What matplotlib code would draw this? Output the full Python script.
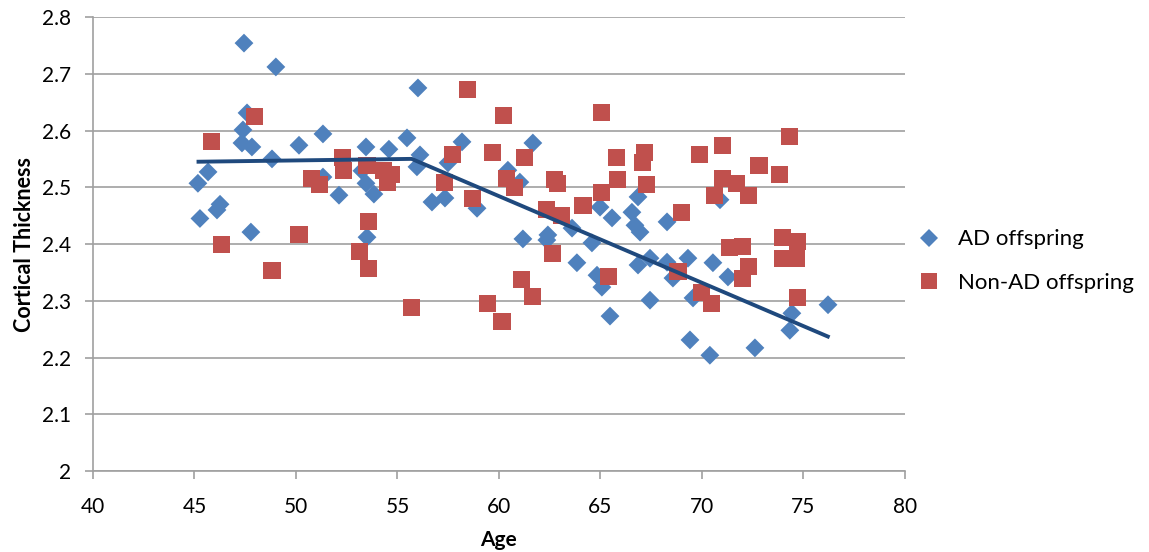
import matplotlib.pyplot as plt
from matplotlib.lines import Line2D

# AD offspring (blue diamonds)
ad_age = [45.17, 45.27, 45.67, 46.11, 46.26, 47.44, 47.59, 47.39, 47.34, 47.83,
          47.78, 48.82, 49.01, 50.15, 51.33, 51.33, 52.12, 53.45, 53.25, 53.45,
          53.84, 53.50, 54.58, 55.47, 56.01, 56.11, 55.96, 56.70, 57.34, 57.49,
          58.18, 58.92, 60.44, 61.03, 61.67, 61.18, 62.41, 62.36, 63.60, 63.84,
          64.58, 64.98, 65.57, 64.83, 65.07, 65.47, 66.55, 66.70, 66.95, 66.85,
          67.44, 66.85, 67.44, 68.28, 68.28, 68.57, 69.31, 69.56, 69.41, 70.54,
          70.89, 71.28, 70.39, 72.61, 74.43, 74.33, 76.21]
ad_thick = [2.507, 2.445, 2.527, 2.460, 2.470, 2.754, 2.631, 2.601, 2.578, 2.571,
            2.421, 2.550, 2.712, 2.574, 2.594, 2.518, 2.486, 2.571, 2.529, 2.507,
            2.488, 2.412, 2.567, 2.587, 2.675, 2.557, 2.536, 2.474, 2.481, 2.543,
            2.580, 2.463, 2.530, 2.509, 2.578, 2.409, 2.416, 2.407, 2.428, 2.367,
            2.402, 2.465, 2.446, 2.345, 2.324, 2.273, 2.456, 2.433, 2.421, 2.483,
            2.375, 2.363, 2.301, 2.439, 2.368, 2.340, 2.375, 2.305, 2.231, 2.367,
            2.478, 2.342, 2.204, 2.217, 2.278, 2.248, 2.293]

# Non-AD offspring (red squares)
non_age = [45.86, 46.31, 47.98, 48.82, 50.15, 50.79, 51.18, 52.27, 52.36, 53.15,
           53.55, 53.55, 53.50, 54.29, 54.73, 54.53, 55.71, 57.34, 57.73, 58.47,
           60.20, 58.72, 59.70, 60.39, 60.79, 61.28, 59.46, 60.15, 61.13, 61.67,
           62.36, 62.76, 62.86, 63.10, 62.66, 64.14, 65.07, 65.07, 65.81, 65.86,
           65.42, 67.19, 67.09, 67.29, 68.97, 68.82, 69.90, 70.99, 70.99, 70.64,
           71.72, 72.27, 72.81, 73.84, 74.29, 70.00, 70.49, 71.38, 72.02, 72.27,
           72.02, 73.99, 74.73, 73.99, 74.68, 74.73]
non_thick = [2.580, 2.400, 2.624, 2.354, 2.416, 2.516, 2.504, 2.553, 2.529, 2.386,
             2.439, 2.356, 2.539, 2.530, 2.522, 2.509, 2.289, 2.509, 2.557, 2.673,
             2.627, 2.481, 2.562, 2.516, 2.499, 2.552, 2.296, 2.263, 2.337, 2.307,
             2.460, 2.513, 2.507, 2.451, 2.384, 2.467, 2.631, 2.490, 2.552, 2.513,
             2.342, 2.562, 2.543, 2.504, 2.456, 2.351, 2.557, 2.574, 2.516, 2.485,
             2.507, 2.485, 2.539, 2.522, 2.590, 2.314, 2.296, 2.393, 2.395, 2.361,
             2.340, 2.412, 2.404, 2.375, 2.375, 2.305]

# piecewise fit line
fit_age = [45.2, 55.7, 76.2]
fit_thick = [2.545, 2.550, 2.237]

blue = "#4F81BD"
red = "#C0504D"
navy = "#1F497D"

plt.rcParams["font.family"] = ["Lato", "DejaVu Sans"]

fig = plt.figure(figsize=(11.49, 5.52), dpi=100)
ax = fig.add_axes([0.0809, 0.1467, 0.7067, 0.8225])

ax.scatter(ad_age, ad_thick, marker="D", s=92, color=blue, edgecolors="none", zorder=3)
ax.scatter(non_age, non_thick, marker="s", s=150, color=red, edgecolors="none", zorder=4)
ax.plot(fit_age, fit_thick, color=navy, linewidth=2.8, zorder=5)

ax.set_xlim(40, 80)
ax.set_ylim(2, 2.8)
ax.set_xticks(range(40, 81, 5))
ax.set_yticks([2 + i * 0.1 for i in range(9)])
ax.set_yticklabels(["2", "2.1", "2.2", "2.3", "2.4", "2.5", "2.6", "2.7", "2.8"])
ax.grid(axis="y", color="#A0A0A0", linewidth=1.2)
ax.set_axisbelow(True)
for side in ["top", "right"]:
    ax.spines[side].set_visible(False)
for side in ["left", "bottom"]:
    ax.spines[side].set_color("#A0A0A0")
    ax.spines[side].set_linewidth(1.2)
ax.tick_params(colors="#A0A0A0", labelcolor="black", labelsize=15, length=6, width=1.2)
ax.tick_params(axis="y", pad=10)
ax.tick_params(axis="x", pad=13)

ax.set_xlabel("Age", fontsize=15, fontweight="bold", labelpad=9)
ax.set_ylabel("Cortical Thickness", fontsize=15.5, fontweight="bold", labelpad=5)

handles = [
    Line2D([], [], marker="D", linestyle="none", color=blue, markersize=9, markeredgewidth=0),
    Line2D([], [], marker="s", linestyle="none", color=red, markersize=12, markeredgewidth=0),
]
fig.legend(handles, ["AD offspring", "Non-AD offspring"], loc="center left",
           bbox_to_anchor=(0.789, 0.527), frameon=False, fontsize=16,
           handlelength=1, handletextpad=0.8, labelspacing=1.05, borderpad=0)

fig.savefig("out.png", dpi=100)
